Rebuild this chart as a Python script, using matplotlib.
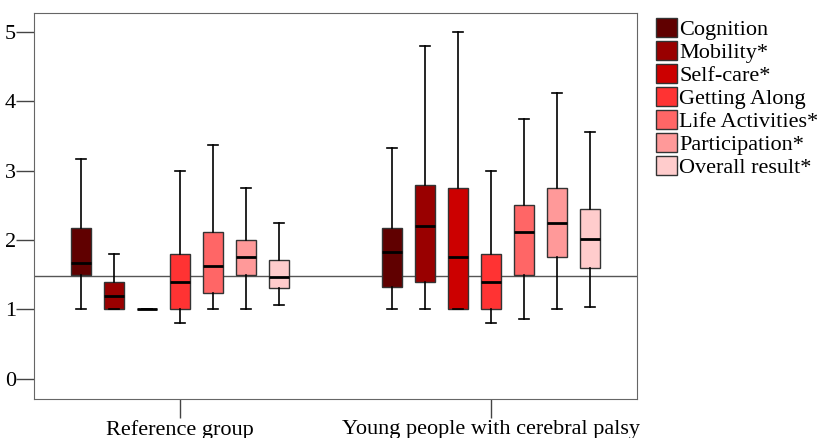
import matplotlib
matplotlib.use("Agg")
import matplotlib.pyplot as plt
from matplotlib.patches import Patch

groups = ["Reference group", "Young people with cerebral palsy"]
categories = ["Cognition", "Mobility*", "Self-care*", "Getting Along",
              "Life Activities*", "Participation*", "Overall result*"]
colors = ["#600000", "#990000", "#cc0000", "#ff3333", "#ff6666", "#ff9999", "#ffcccc"]

# whisker low, Q1, median, Q3, whisker high
ref_low = [1.0, 1.0, 1.0, 0.8, 1.0, 1.0, 1.06]
ref_q1 = [1.5, 1.0, 1.0, 1.0, 1.24, 1.5, 1.31]
ref_med = [1.67, 1.2, 1.0, 1.4, 1.62, 1.75, 1.47]
ref_q3 = [2.17, 1.4, 1.0, 1.8, 2.12, 2.0, 1.72]
ref_high = [3.17, 1.8, 1.0, 3.0, 3.37, 2.75, 2.25]

cp_low = [1.0, 1.0, 1.0, 0.8, 0.87, 1.0, 1.04]
cp_q1 = [1.33, 1.4, 1.0, 1.0, 1.5, 1.75, 1.6]
cp_med = [1.83, 2.2, 1.75, 1.4, 2.12, 2.25, 2.02]
cp_q3 = [2.17, 2.8, 2.75, 1.8, 2.5, 2.75, 2.45]
cp_high = [3.33, 4.8, 5.0, 3.0, 3.75, 4.12, 3.56]

ref_line = 1.48

plt.rcParams["font.family"] = ["Liberation Serif", "DejaVu Serif"]
plt.rcParams["font.size"] = 16

fig = plt.figure(figsize=(8.21, 4.38), dpi=100)
ax = fig.add_axes([0.0414, 0.089, 0.7345, 0.881])

step = 0.106
width = 0.064
all_stats = [(ref_low, ref_q1, ref_med, ref_q3, ref_high),
             (cp_low, cp_q1, cp_med, cp_q3, cp_high)]
for g, (lo, q1, med, q3, hi) in enumerate(all_stats):
    for i in range(len(categories)):
        st = {"whislo": lo[i], "q1": q1[i], "med": med[i], "q3": q3[i],
              "whishi": hi[i], "fliers": []}
        pos = g + (i - 3) * step
        ax.bxp([st], positions=[pos], widths=width, capwidths=width / 2,
               patch_artist=True, showfliers=False,
               boxprops=dict(facecolor=colors[i], edgecolor="#333333", linewidth=1),
               medianprops=dict(color="black", linewidth=2),
               whiskerprops=dict(color="black", linewidth=1.2),
               capprops=dict(color="black", linewidth=1.2))

ax.axhline(ref_line, color="#555555", linewidth=1, zorder=0.5)

ax.set_xlim(-0.47, 1.47)
ax.set_ylim(-0.29, 5.27)
ax.set_xticks([0, 1])
ax.set_xticklabels(groups)
ax.set_yticks([0, 1, 2, 3, 4, 5])
for s in ax.spines.values():
    s.set_color("#666666")
ax.tick_params(axis="both", length=14, width=1, color="#444444", pad=1)
ax.tick_params(axis="y", length=13, pad=0)

handles = [Patch(facecolor=c, edgecolor="#333333") for c in colors]
fig.legend(handles, categories, loc="upper left", bbox_to_anchor=(0.794, 0.968),
           frameon=False, handlelength=0.95, handleheight=0.9, handletextpad=0.08,
           labelspacing=0.05, borderaxespad=0, borderpad=0.2)

fig.savefig("out.png", dpi=100)
